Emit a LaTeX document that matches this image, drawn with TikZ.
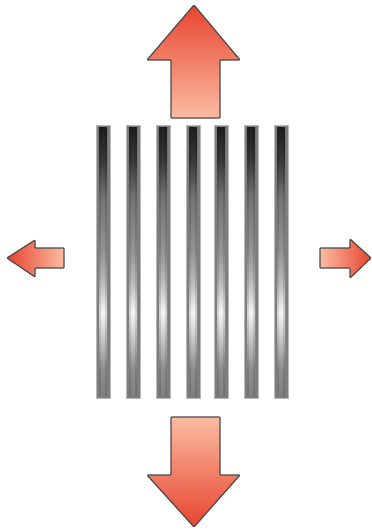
\documentclass[tikz,border=0pt]{standalone}
\usetikzlibrary{calc}
\definecolor{arrred}{HTML}{E8442E}
\definecolor{arrlight}{HTML}{FABCA2}
\definecolor{arredge}{HTML}{4A4A4A}
\definecolor{barframe}{HTML}{7E7E7E}
\definecolor{barrim}{HTML}{B8B8B8}
\pgfdeclareverticalshading{barshade}{100bp}{%
  color(0bp)=(black!50); color(25bp)=(black!50); color(30bp)=(black!44);
  color(35bp)=(black!24); color(40.5bp)=(black!4); color(46bp)=(black!26);
  color(52bp)=(black!42); color(62bp)=(black!55); color(69bp)=(black!78);
  color(75bp)=(black!88); color(100bp)=(black!88)}
\tikzset{
  bigarrow/.style={draw=arredge, line width=1.2pt, line join=round, rounded corners=0.8pt},
  barouter/.style={fill=barframe, draw=barrim, line width=0.8pt},
  barcore/.style={shading=barshade},
  baredge/.style={fill=black, fill opacity=0.12}
}
\begin{document}
\begin{tikzpicture}[x=1pt,y=-1pt]
\useasboundingbox (0,0) rectangle (372,531);
% top arrow
\draw[bigarrow, top color=arrred, bottom color=arrlight]
  (171,118) -- (171,60) -- (147,60) -- (194,5) -- (240,60) -- (220,60) -- (220,118) -- cycle;
% bottom arrow
\draw[bigarrow, top color=arrlight, bottom color=arrred]
  (171,417) -- (220,417) -- (220,475) -- (240,475) -- (194,527) -- (147,475) -- (171,475) -- cycle;
% left arrow
\draw[bigarrow, left color=arrred, right color=arrlight]
  (64,248) -- (35,248) -- (35,240) -- (7,258) -- (35,277) -- (35,268) -- (64,268) -- cycle;
% right arrow
\draw[bigarrow, left color=arrlight, right color=arrred]
  (320,248) -- (350,248) -- (350,239) -- (371,258) -- (350,278) -- (350,268) -- (320,268) -- cycle;
% bars
\foreach \x in {96,126,156,186,214,244,274}{
  \filldraw[barouter] (\x,125) rectangle ++(14,273);
  \path[barcore] (\x+3,127.5) rectangle ++(8,268);
  \path[baredge] (\x+3,127.5) rectangle ++(2,268);
  \path[baredge] (\x+9,127.5) rectangle ++(2,268);
}
\end{tikzpicture}
\end{document}
